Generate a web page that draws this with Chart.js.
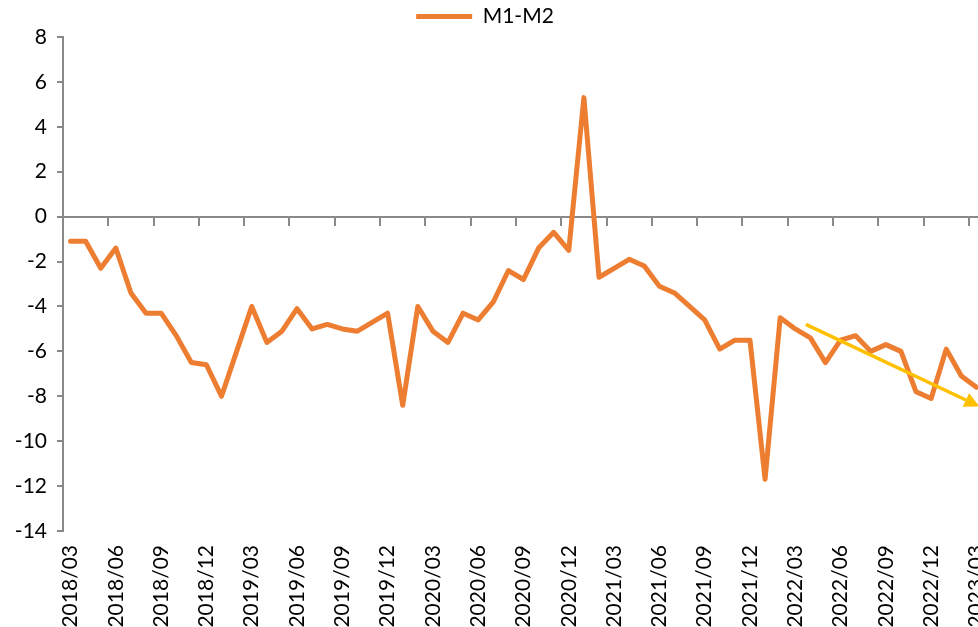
<!DOCTYPE html>
<html>
<head>
<meta charset="utf-8">
<script src="https://cdn.jsdelivr.net/npm/chart.js@4/dist/chart.umd.min.js"></script>
<style>
  html, body { margin: 0; padding: 0; background: #fff; overflow: hidden; }
  #wrap { width: 1000px; height: 627px; }
</style>
</head>
<body>
<div id="wrap"><canvas id="c" width="1000" height="627"></canvas></div>
<script>
const months = [
  '2018/03','2018/04','2018/05','2018/06','2018/07','2018/08','2018/09','2018/10','2018/11','2018/12',
  '2019/01','2019/02','2019/03','2019/04','2019/05','2019/06','2019/07','2019/08','2019/09','2019/10','2019/11','2019/12',
  '2020/01','2020/02','2020/03','2020/04','2020/05','2020/06','2020/07','2020/08','2020/09','2020/10','2020/11','2020/12',
  '2021/01','2021/02','2021/03','2021/04','2021/05','2021/06','2021/07','2021/08','2021/09','2021/10','2021/11','2021/12',
  '2022/01','2022/02','2022/03','2022/04','2022/05','2022/06','2022/07','2022/08','2022/09','2022/10','2022/11','2022/12',
  '2023/01','2023/02','2023/03'
];
const m1m2 = [
  -1.1, -1.1, -2.3, -1.4, -3.4, -4.3, -4.3, -5.3, -6.5, -6.6,
  -8.0, -6.0, -4.0, -5.6, -5.1, -4.1, -5.0, -4.8, -5.0, -5.1, -4.7, -4.3,
  -8.4, -4.0, -5.1, -5.6, -4.3, -4.6, -3.8, -2.4, -2.8, -1.4, -0.7, -1.5,
  5.3, -2.7, -2.3, -1.9, -2.2, -3.1, -3.4, -4.0, -4.6, -5.9, -5.5, -5.5,
  -11.7, -4.5, -5.0, -5.4, -6.5, -5.5, -5.3, -6.0, -5.7, -6.0, -7.8, -8.1,
  -5.9, -7.1, -7.6
];
const seriesName = 'M1-M2';
const yTicks = [-14, -12, -10, -8, -6, -4, -2, 0, 2, 4, 6, 8];
// trend arrow: [category position, value]
const trendStart = [48.7, -4.8];
const trendEnd = [60.2, -8.45];

const ORANGE = '#ED7D31';
const GRAY = '#898989';
const FONT = 'Lato, "Open Sans", sans-serif';

const arrowPlugin = {
  id: 'trendArrow',
  afterLayout(chart) {
    const l = chart.legend;
    if (l) { l.left -= 7; l.right -= 7; }
  },
  afterDatasetsDraw(chart) {
    const x = chart.scales.x, y = chart.scales.y, ctx = chart.ctx;
    const x1 = x.getPixelForValue(trendStart[0]), y1 = y.getPixelForValue(trendStart[1]);
    const x2 = x.getPixelForValue(trendEnd[0]), y2 = y.getPixelForValue(trendEnd[1]);
    const ang = Math.atan2(y2 - y1, x2 - x1);
    const head = 15, half = 7.5;
    const bx = x2 - head * Math.cos(ang), by = y2 - head * Math.sin(ang);
    ctx.save();
    ctx.strokeStyle = '#FFC000';
    ctx.fillStyle = '#FFC000';
    ctx.lineWidth = 3.5;
    ctx.beginPath();
    ctx.moveTo(x1, y1);
    ctx.lineTo(bx, by);
    ctx.stroke();
    ctx.beginPath();
    ctx.moveTo(x2, y2);
    ctx.lineTo(bx + half * Math.sin(ang), by - half * Math.cos(ang));
    ctx.lineTo(bx - half * Math.sin(ang), by + half * Math.cos(ang));
    ctx.closePath();
    ctx.fill();
    ctx.restore();
  }
};

new Chart(document.getElementById('c'), {
  type: 'line',
  data: {
    labels: months,
    datasets: [{
      label: seriesName,
      data: m1m2,
      borderColor: ORANGE,
      backgroundColor: ORANGE,
      borderWidth: 5,
      borderCapStyle: 'round',
      borderJoinStyle: 'round',
      pointRadius: 0,
      tension: 0,
      xAxisID: 'x',
      yAxisID: 'y'
    }]
  },
  options: {
    responsive: false,
    devicePixelRatio: 1,
    animation: false,
    layout: { padding: { left: 0, right: 16, top: 0, bottom: 0 } },
    plugins: {
      legend: {
        display: true,
        position: 'top',
        labels: {
          usePointStyle: true,
          pointStyle: 'line',
          pointStyleWidth: 56,
          padding: 6,
          color: '#000',
          font: { family: FONT, size: 21 }
        }
      },
      tooltip: { enabled: false }
    },
    scales: {
      x: {
        type: 'category',
        position: 'bottom',
        offset: true,
        grid: { display: false, drawTicks: false },
        border: { display: false },
        ticks: {
          autoSkip: false,
          maxRotation: 90,
          minRotation: 90,
          padding: 14,
          color: '#000',
          font: { family: FONT, size: 21 },
          callback: function(v, i) { return i % 3 === 0 ? months[i] : ''; }
        },
        afterFit: function(s) { s.height = 96; s.paddingLeft = 0; s.paddingRight = 0; }
      },
      x0: {
        type: 'category',
        position: { y: 0 },
        offset: true,
        grid: {
          offset: true,
          drawOnChartArea: false,
          drawTicks: true,
          tickLength: 8,
          lineWidth: 2,
          color: function(c) { return (c.index % 3 === 0 && c.index > 0) ? GRAY : 'rgba(0,0,0,0)'; }
        },
        border: { display: true, color: GRAY, width: 2 },
        ticks: { display: false },
        afterFit: function(s) { s.height = 0; s.paddingLeft = 0; s.paddingRight = 0; }
      },
      y: {
        type: 'linear',
        min: -14,
        max: 8,
        afterBuildTicks: function(s) { s.ticks = yTicks.map(v => ({ value: v })); },
        grid: { drawOnChartArea: false, drawTicks: true, tickLength: 6, color: GRAY, lineWidth: 2 },
        border: { display: true, color: GRAY, width: 2 },
        ticks: {
          padding: 10,
          color: '#000',
          font: { family: FONT, size: 21 }
        },
        afterFit: function(s) { s.width = 63; }
      }
    }
  },
  plugins: [arrowPlugin]
});
</script>
</body>
</html>
